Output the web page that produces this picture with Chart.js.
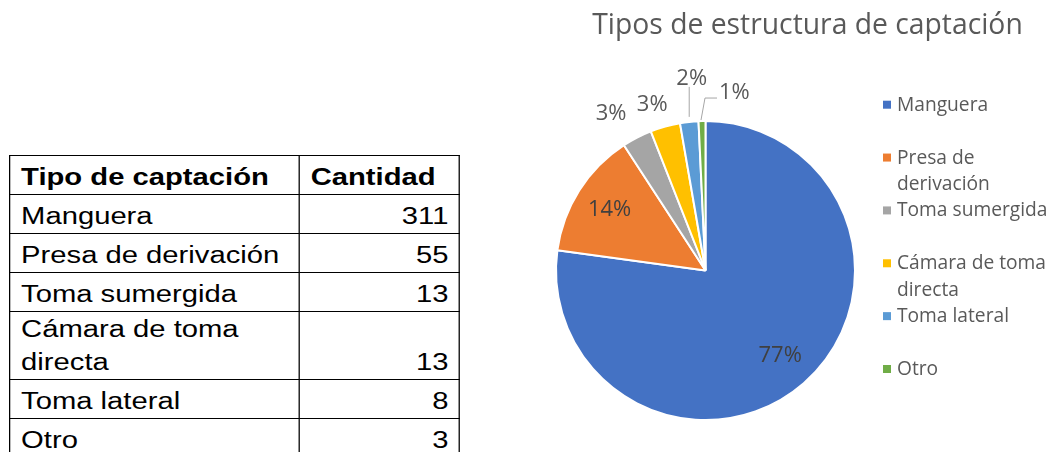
<!DOCTYPE html>
<html lang="es">
<head>
<meta charset="utf-8">
<title>Tipos de estructura de captación</title>
<script src="https://cdn.jsdelivr.net/npm/chart.js@4.4.1/dist/chart.umd.min.js"></script>
<style>
  html, body { margin: 0; padding: 0; background: #fff; width: 1053px; height: 452px; overflow: hidden; }
  #tabla {
    position: absolute; left: 9px; top: 155px;
    transform-origin: 0 0; transform: scaleX(1.27);
    border-collapse: collapse; table-layout: fixed; width: 354px;
    font-family: "Liberation Sans", Arial, sans-serif; font-size: 23px; line-height: 33px; color: #000;
  }
  #tabla th, #tabla td {
    border: 1px solid #000; padding: 0 8px 0 8.5px; vertical-align: bottom; height: 38px;
  }
  #tabla th { font-weight: bold; text-align: left; }
  #tabla td.num { text-align: right; }
  #tabla tr.doble td { height: 67px; }
  #grafico { position: absolute; left: 480px; top: 0; width: 573px; height: 452px; }
</style>
</head>
<body>
<table id="tabla">
  <colgroup><col style="width:228px"><col style="width:126px"></colgroup>
  <thead><tr><th>Tipo de captación</th><th>Cantidad</th></tr></thead>
  <tbody></tbody>
</table>
<div id="grafico"><canvas id="pie"></canvas></div>
<script>
// Categorías y cantidades por tipo de captación
const categories = ['Manguera', 'Presa de derivación', 'Toma sumergida', 'Cámara de toma directa', 'Toma lateral', 'Otro'];
const quantities = [311, 55, 13, 13, 8, 3];
const sliceColors = ['#4472C4', '#ED7D31', '#A5A5A5', '#FFC000', '#5B9BD5', '#70AD47'];
const chartTitle = 'Tipos de estructura de captación';

// Tabla de datos
const tbody = document.querySelector('#tabla tbody');
categories.forEach((cat, i) => {
  const tr = document.createElement('tr');
  if (cat === 'Cámara de toma directa') tr.className = 'doble';
  const a = document.createElement('td');
  a.textContent = cat;
  const b = document.createElement('td');
  b.className = 'num';
  b.textContent = quantities[i];
  tr.appendChild(a); tr.appendChild(b);
  tbody.appendChild(tr);
});

const FONT = '"Open Sans", "Noto Sans", sans-serif';

// Colocación de las etiquetas de porcentaje (relativa al borde exterior de cada sector)
const labelStyle = [
  { mode: 'inside', r: 0.76, color: '#404040' },
  { mode: 'inside', r: 0.76, color: '#404040' },
  { mode: 'outside', dx: -26, dy: -24, color: '#595959' },
  { mode: 'outside', dx: -13, dy: -22, color: '#595959' },
  { mode: 'outside', dx: 2.5, dy: -43, color: '#595959', leader: [[0, -5], [0, -35]] },
  { mode: 'outside', dx: 17, dy: -28.5, align: 'left', color: '#595959', leader: [[-1, -1], [3, -23], [15, -23]] }
];

const titlePlugin = {
  id: 'tituloGrafico',
  afterDraw(chart) {
    const c = chart.ctx;
    c.save();
    c.font = '28.3px ' + FONT;
    c.fillStyle = '#595959';
    c.textAlign = 'center';
    c.textBaseline = 'alphabetic';
    c.fillText(chartTitle, 327.5, 34);
    c.restore();
  }
};

const labelPlugin = {
  id: 'porcentajes',
  afterDatasetsDraw(chart) {
    const c = chart.ctx;
    const data = chart.data.datasets[0].data;
    const total = data.reduce((s, v) => s + v, 0);
    const meta = chart.getDatasetMeta(0);
    c.save();
    c.font = '22px ' + FONT;
    c.textBaseline = 'middle';
    meta.data.forEach((arc, i) => {
      const p = arc.getProps(['x', 'y', 'startAngle', 'endAngle', 'outerRadius'], true);
      const mid = (p.startAngle + p.endAngle) / 2;
      const st = labelStyle[i];
      const text = Math.round(data[i] / total * 100) + '%';
      c.fillStyle = st.color;
      if (st.mode === 'inside') {
        c.textAlign = 'center';
        c.fillText(text, p.x + Math.cos(mid) * p.outerRadius * st.r, p.y + Math.sin(mid) * p.outerRadius * st.r);
      } else {
        const ex = p.x + Math.cos(mid) * p.outerRadius;
        const ey = p.y + Math.sin(mid) * p.outerRadius;
        if (st.leader) {
          c.strokeStyle = '#A6A6A6';
          c.lineWidth = 1;
          c.beginPath();
          st.leader.forEach((pt, k) => {
            const fn = k === 0 ? 'moveTo' : 'lineTo';
            c[fn](ex + pt[0], ey + pt[1]);
          });
          c.stroke();
        }
        c.textAlign = st.align || 'center';
        c.fillText(text, ex + st.dx, ey + st.dy);
      }
    });
    c.restore();
  }
};

// Leyenda a la derecha con ajuste de línea
const legendPlugin = {
  id: 'leyendaDerecha',
  afterDraw(chart) {
    const c = chart.ctx;
    const labels = chart.data.labels;
    const colors = chart.data.datasets[0].backgroundColor;
    const boxX = 403, textX = 417, firstBase = 110.7, pitch = 52.86, lineH = 26.7, maxW = 160;
    c.save();
    c.font = '19.2px ' + FONT;
    c.textAlign = 'left';
    c.textBaseline = 'alphabetic';
    labels.forEach((lab, i) => {
      const base = firstBase + i * pitch;
      c.fillStyle = colors[i];
      c.fillRect(boxX, base - 10, 8, 8);
      const words = lab.split(' ');
      const lines = [];
      let cur = '';
      words.forEach(w => {
        const test = cur ? cur + ' ' + w : w;
        if (cur && c.measureText(test).width > maxW) { lines.push(cur); cur = w; }
        else cur = test;
      });
      lines.push(cur);
      c.fillStyle = '#595959';
      lines.forEach((ln, k) => c.fillText(ln, textX, base + k * lineH));
    });
    c.restore();
  }
};

new Chart(document.getElementById('pie'), {
  type: 'pie',
  data: {
    labels: categories,
    datasets: [{
      data: quantities,
      backgroundColor: sliceColors,
      borderColor: '#ffffff',
      borderWidth: 2
    }]
  },
  options: {
    responsive: true,
    maintainAspectRatio: false,
    animation: false,
    devicePixelRatio: 1,
    layout: { padding: { left: 75, right: 197, top: 120, bottom: 31 } },
    plugins: {
      legend: { display: false },
      title: { display: false },
      tooltip: { enabled: false }
    }
  },
  plugins: [titlePlugin, labelPlugin, legendPlugin]
});
</script>
</body>
</html>
